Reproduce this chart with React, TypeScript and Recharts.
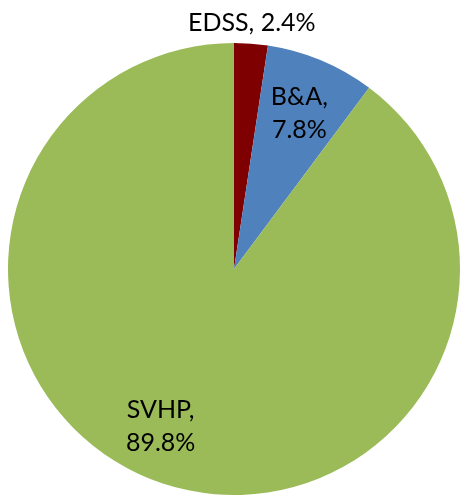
import React from "react";
import { PieChart, Pie, Cell } from "recharts";

const names = ["EDSS", "B&A", "SVHP"];
const shares = [2.4, 7.8, 89.8];
const colors = ["#7f0000", "#4f81bd", "#9bbb59"];

const data = names.map((name, i) => ({ name, value: shares[i] }));

const RAD = Math.PI / 180;

// where each label sits, relative to the outer radius, plus a small nudge
const labelSpots = [
  { r: 1.105, dx: -1, dy: 1, oneLine: true },
  { r: 0.75, dx: 0, dy: 0, oneLine: false },
  { r: 0.75, dx: -20, dy: -4, oneLine: false },
];

function renderLabel(props: any) {
  const { cx, cy, midAngle, outerRadius, index, name, value } = props;
  const spot = labelSpots[index];
  const r = outerRadius * spot.r;
  const x = cx + r * Math.cos(-midAngle * RAD) + spot.dx;
  const y = cy + r * Math.sin(-midAngle * RAD) + spot.dy;
  const pct = value.toFixed(1) + "%";
  if (spot.oneLine) {
    return (
      <text x={x} y={y} textAnchor="middle" dominantBaseline="central" fill="#000" fontSize={25}>
        {name + ", " + pct}
      </text>
    );
  }
  return (
    <text x={x} y={y} textAnchor="middle" fill="#000" fontSize={25}>
      <tspan x={x} dy={-8}>{name + ","}</tspan>
      <tspan x={x} dy={33}>{pct}</tspan>
    </text>
  );
}

export default function App() {
  return (
    <div style={{ position: "fixed", left: 0, top: 0, fontFamily: "Lato, 'Open Sans', sans-serif" }}>
      <PieChart width={460} height={497} margin={{ top: 0, right: 0, bottom: 0, left: 0 }}>
        <Pie
          data={data}
          dataKey="value"
          nameKey="name"
          cx={234}
          cy={269}
          outerRadius={226}
          startAngle={90}
          endAngle={-270}
          stroke="none"
          label={renderLabel}
          labelLine={false}
          isAnimationActive={false}
        >
          {data.map((d, i) => (
            <Cell key={d.name} fill={colors[i]} />
          ))}
        </Pie>
      </PieChart>
    </div>
  );
}
